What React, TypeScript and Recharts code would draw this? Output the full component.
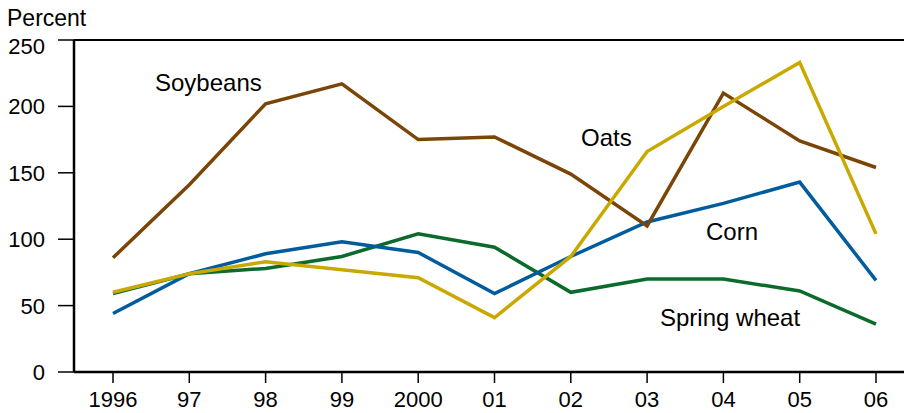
import { LineChart, Line, XAxis, YAxis, ReferenceLine } from "recharts";

const years = ["1996", "97", "98", "99", "2000", "01", "02", "03", "04", "05", "06"];
const soybeans = [86, 141, 202, 217, 175, 177, 149, 110, 210, 174, 154];
const corn = [44, 74, 89, 98, 90, 59, 87, 113, 127, 143, 69];
const springWheat = [59, 74, 78, 87, 104, 94, 60, 70, 70, 61, 36];
const oats = [60, 74, 83, 77, 71, 41, 87, 166, 200, 233, 104];
const yTicks = [0, 50, 100, 150, 200, 250];

const data = years.map((year, i) => ({
  year,
  soybeans: soybeans[i],
  corn: corn[i],
  springWheat: springWheat[i],
  oats: oats[i],
}));

const FONT = "'Liberation Sans', Arial, Helvetica, sans-serif";

function YTick(props: any) {
  const { x, y, payload } = props;
  const shift = payload.value === 250 ? 6 : 0;
  return (
    <text x={x} y={y + shift} dy="0.36em" textAnchor="end" fontSize={22} fill="#000" fontFamily={FONT}>
      {payload.value}
    </text>
  );
}

export default function App() {
  return (
    <div style={{ position: "absolute", left: 0, top: 0, width: 904, height: 413, background: "#fff" }}>
      <LineChart
        width={904}
        height={413}
        data={data}
        margin={{ top: 40, right: 0, bottom: 0, left: 0 }}
      >
        <XAxis
          dataKey="year"
          height={41}
          padding={{ left: 39, right: 28 }}
          tickSize={11}
          tickMargin={8}
          tick={{ fontSize: 22, fill: "#000", fontFamily: FONT }}
          axisLine={{ stroke: "#000", strokeWidth: 2.5 }}
          tickLine={{ stroke: "#000", strokeWidth: 1.5 }}
          interval={0}
        />
        <YAxis
          domain={[0, 250]}
          ticks={yTicks}
          width={74}
          tickSize={16}
          tickMargin={13}
          tick={<YTick />}
          axisLine={{ stroke: "#000", strokeWidth: 2.5 }}
          tickLine={{ stroke: "#000", strokeWidth: 1.5 }}
        />
        <ReferenceLine y={250} stroke="#000" strokeWidth={2} />
        <Line dataKey="springWheat" stroke="#0b6a2c" strokeWidth={3.5} dot={false} isAnimationActive={false} />
        <Line dataKey="corn" stroke="#005c9c" strokeWidth={3.5} dot={false} isAnimationActive={false} />
        <Line dataKey="soybeans" stroke="#7a4506" strokeWidth={3.5} dot={false} isAnimationActive={false} />
        <Line dataKey="oats" stroke="#c9a900" strokeWidth={3.5} dot={false} isAnimationActive={false} />
      </LineChart>
      <svg
        width={904}
        height={413}
        style={{ position: "absolute", left: 0, top: 0, pointerEvents: "none" }}
        fontFamily={FONT}
        fontSize={24}
        fill="#000"
      >
        <text x={7} y={26} fontSize={23}>Percent</text>
        <text x={155} y={91}>Soybeans</text>
        <text x={581} y={146}>Oats</text>
        <text x={706} y={240}>Corn</text>
        <text x={660} y={326}>Spring wheat</text>
      </svg>
    </div>
  );
}
